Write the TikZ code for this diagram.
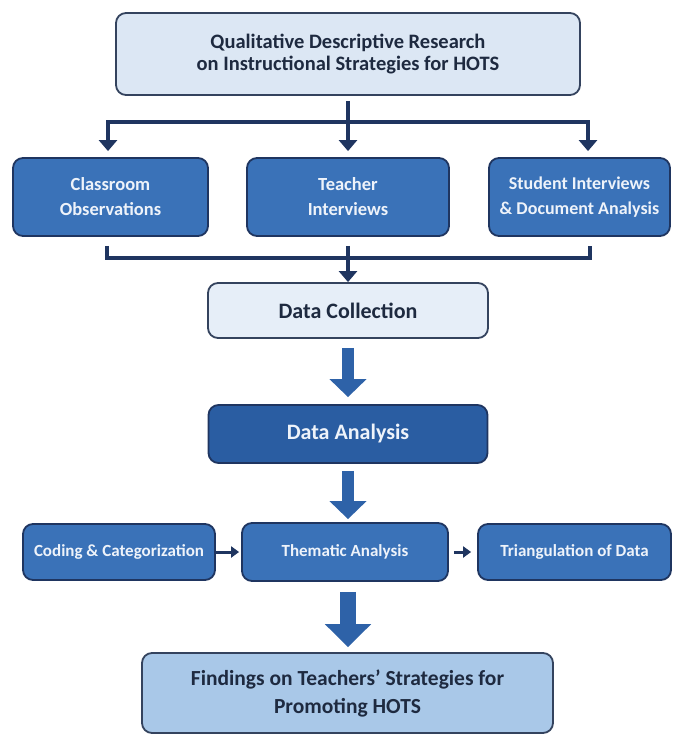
\documentclass[tikz,border=0pt]{standalone}
\usepackage{fontspec}
\setmainfont{Carlito}
\usetikzlibrary{arrows.meta,calc}
\definecolor{navy}{HTML}{1F3560}
\definecolor{lineborder}{HTML}{34435E}
\definecolor{lightbox}{HTML}{DCE7F4}
\definecolor{dcbox}{HTML}{E6EEF8}
\definecolor{midbox}{HTML}{3A72B8}
\definecolor{darkbox}{HTML}{2A5DA2}
\definecolor{findbox}{HTML}{A9C8E8}
\definecolor{darktext}{HTML}{1E2A40}
\definecolor{lighttext}{HTML}{EEF3FA}
\definecolor{blockarrow}{HTML}{2E62A8}
\begin{document}
\begin{tikzpicture}[x=1pt,y=-1pt,
  box/.style={line width=1.8pt, rounded corners=10pt, inner sep=0pt, align=center},
  lightnode/.style={box, draw=lineborder, fill=lightbox, text=darktext},
  midnode/.style={box, draw=navy, fill=midbox, text=lighttext},
  conn/.style={draw=navy, line width=3.4pt},
  arr/.style={conn, -{Triangle[width=18pt,length=11pt]}},
  smallarr/.style={draw=navy, line width=3pt, -{Triangle[width=11pt,length=8pt]}},
  blockarr/.style={draw=blockarrow, line width=12pt, -{Triangle[width=36pt,length=18pt]}},
  bigblockarr/.style={draw=blockarrow, line width=16pt, -{Triangle[width=45pt,length=23pt]}}
]
\useasboundingbox (0,0) rectangle (673,735);

% nodes
\node[lightnode, minimum width=464pt, minimum height=82pt,
  font=\bfseries\fontsize{20.5}{21.5}\selectfont] (top) at (348,54)
  {Qualitative Descriptive Research\\on Instructional Strategies for HOTS};

\node[midnode, minimum width=195pt, minimum height=78pt,
  font=\bfseries\fontsize{18.5}{25}\selectfont] (cls) at (110.5,197) {Classroom\\Observations};
\node[midnode, minimum width=202pt, minimum height=78pt,
  font=\bfseries\fontsize{18.5}{25}\selectfont] (tch) at (348,197) {Teacher\\Interviews};
\node[midnode, minimum width=181pt, minimum height=78pt,
  font=\bfseries\fontsize{18}{25}\selectfont] (stu) at (579.5,197) {Student Interviews\\\& Document Analysis};

\node[box, draw=lineborder, fill=dcbox, text=darktext, minimum width=280pt, minimum height=55pt,
  font=\bfseries\fontsize{22}{24}\selectfont] (dc) at (348,310.5) {Data Collection};

\node[box, draw=navy, fill=darkbox, text=lighttext, minimum width=279pt, minimum height=58pt,
  font=\bfseries\fontsize{22}{24}\selectfont] (da) at (348,434) {Data Analysis};

\node[midnode, minimum width=192pt, minimum height=56pt,
  font=\bfseries\fontsize{17}{20}\selectfont] (cod) at (119,552) {Coding \& Categorization};
\node[midnode, minimum width=206pt, minimum height=58pt,
  font=\bfseries\fontsize{17}{20}\selectfont] (thm) at (345,552) {Thematic Analysis};
\node[midnode, minimum width=193pt, minimum height=56pt,
  font=\bfseries\fontsize{17}{20}\selectfont] (tri) at (574.5,552) {Triangulation of Data};

\node[box, draw=lineborder, fill=findbox, text=darktext, minimum width=411pt, minimum height=80pt,
  font=\bfseries\fontsize{21.5}{28}\selectfont] (fin) at (347.5,693)
  {Findings on Teachers' Strategies for\\Promoting HOTS};

% top fan-out
\coordinate (jl) at (108,122);
\coordinate (jr) at (588,122);
\draw[conn, line cap=rect] (jl) -- (jr);
\draw[arr, shorten >=6pt] (jl) -- (jl |- cls.north);
\draw[arr, shorten >=6pt] (jr) -- (jr |- stu.north);
\draw[arr, shorten >=6pt, shorten <=5pt] (top.south) -- (tch.north);

% fan-in
\coordinate (bl) at (107,258);
\coordinate (br) at (590,258);
\draw[conn, line join=miter] ($(bl |- cls.south)+(0,9)$) -- (bl) -- (br) -- ($(br |- stu.south)+(0,9)$);
\draw[arr, shorten <=9pt] (tch.south) -- (dc.north);

% block arrows
\draw[blockarr] ($(dc.south)+(0,9)$) -- ($(dc.south |- da.north)+(0,-7)$);
\draw[blockarr] ($(da.south)+(0,7)$) -- ($(da.south |- thm.north)+(0,-3)$);
\draw[bigblockarr] ($(da.south |- thm.south)+(0,10)$) -- ($(da.south |- fin.north)+(0,-5)$);

% row 3 arrows
\draw[smallarr, shorten >=2pt] (cod.east) -- (thm.west);
\draw[smallarr, shorten <=5pt, shorten >=6pt] (thm.east) -- (tri.west);
\end{tikzpicture}
\end{document}
